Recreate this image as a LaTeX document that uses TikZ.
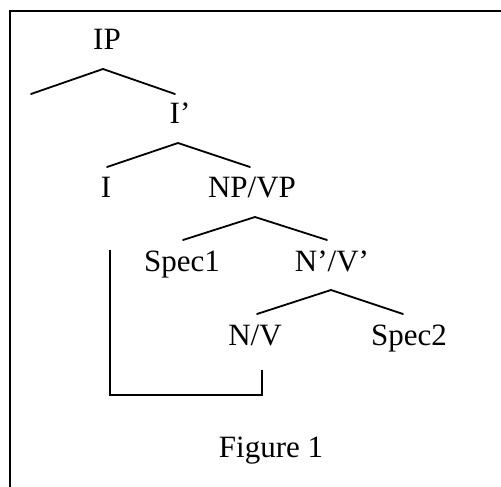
\documentclass[tikz,border=0pt]{standalone}
\usepackage{fontspec}
\setmainfont{Liberation Serif}
\begin{document}
\begin{tikzpicture}[x=1pt,y=-1pt,
  lab/.style={inner sep=0pt,anchor=base,font=\fontsize{31}{37}\selectfont},
  br/.style={line width=1.8pt,line cap=round,line join=miter}]
\useasboundingbox (0,0) rectangle (501,487);
% frame
\coordinate (fbl) at (9.5,488);
\coordinate (ftl) at (9.5,11);
\coordinate (ftr) at (502,11);
\draw[line width=2pt] (fbl) -- (ftl) -- (ftr);
% labels
\node[lab] (IP) at (107,50) {IP};
\node[lab] (Ib) at (180,123) {I’};
\node[lab] (I) at (106,197) {I};
\node[lab] (NPVP) at (252,197) {NP/VP};
\node[lab] (Spec1) at (182,271) {Spec1};
\node[lab] (NbVb) at (332,271) {N’/V’};
\node[lab] (NV) at (255,345) {N/V};
\node[lab] (Spec2) at (409,345) {Spec2};
\node[lab] (Fig) at (271,457) {Figure 1};
% branch points
\coordinate (a1) at (103,69);  \coordinate (l1) at (31,94);   \coordinate (r1) at (175,94);
\coordinate (a2) at (178,143); \coordinate (l2) at (107,167); \coordinate (r2) at (250,167);
\coordinate (a3) at (255,217); \coordinate (l3) at (183,240); \coordinate (r3) at (327,240);
\coordinate (a4) at (331,290); \coordinate (l4) at (257,314); \coordinate (r4) at (403,314);
\draw[br] (l1) -- (a1) -- (r1);
\draw[br] (l2) -- (a2) -- (r2);
\draw[br] (l3) -- (a3) -- (r3);
\draw[br] (l4) -- (a4) -- (r4);
% movement bracket
\coordinate (b1) at (110,250);
\coordinate (b2) at (110,395);
\coordinate (b3) at (262,395);
\coordinate (b4) at (262,370);
\draw[line width=1.8pt] (b1) -- (b2) -- (b3) -- (b4);
\end{tikzpicture}
\end{document}
